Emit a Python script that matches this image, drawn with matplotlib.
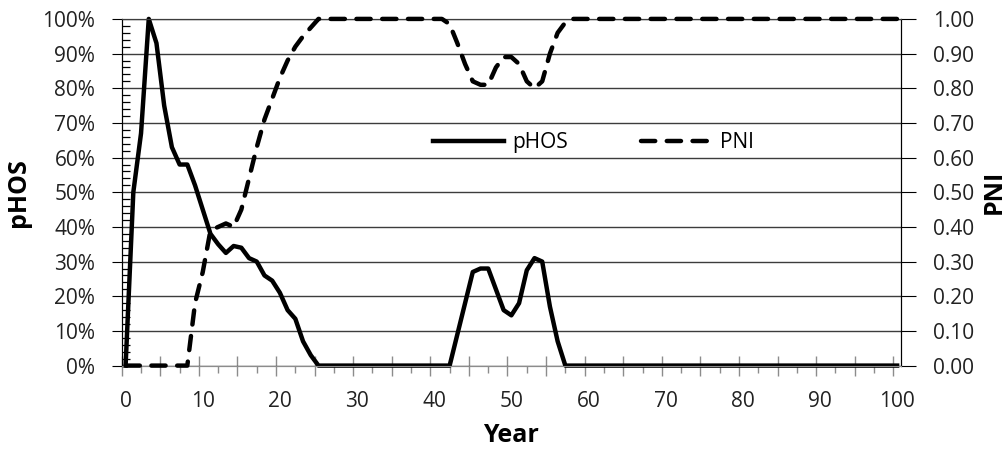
import matplotlib
matplotlib.use("Agg")
import matplotlib.pyplot as plt
from matplotlib.ticker import FixedLocator, FuncFormatter, MultipleLocator

plt.rcParams['font.family'] = ['Open Sans', 'DejaVu Sans']

# year 0..100
years = list(range(0, 101))

# pHOS, percent
phos = [0, 50, 67, 100, 93, 75, 63, 58, 58, 52,
        45, 38, 35, 32.5, 34.5, 34, 31, 30, 26, 24.5,
        21, 16, 13.5, 7, 3, 0, 0, 0, 0, 0,
        0, 0, 0, 0, 0, 0, 0, 0, 0, 0,
        0, 0, 0, 9, 18, 27, 28, 28, 22, 16,
        14.5, 18, 27.5, 31, 30, 17, 7, 0, 0, 0,
        0, 0, 0, 0, 0, 0, 0, 0, 0, 0,
        0, 0, 0, 0, 0, 0, 0, 0, 0, 0,
        0, 0, 0, 0, 0, 0, 0, 0, 0, 0,
        0, 0, 0, 0, 0, 0, 0, 0, 0, 0,
        0]

# PNI, 0..1
pni = [0, 0, 0, 0, 0, 0, 0, 0, 0, 0.18,
       0.27, 0.39, 0.40, 0.41, 0.40, 0.45, 0.54, 0.63, 0.71, 0.77,
       0.83, 0.88, 0.92, 0.95, 0.975, 1, 1, 1, 1, 1,
       1, 1, 1, 1, 1, 1, 1, 1, 1, 1,
       1, 1, 0.985, 0.93, 0.87, 0.82, 0.81, 0.81, 0.86, 0.89,
       0.89, 0.87, 0.82, 0.80, 0.82, 0.90, 0.96, 0.99, 1, 1,
       1, 1, 1, 1, 1, 1, 1, 1, 1, 1,
       1, 1, 1, 1, 1, 1, 1, 1, 1, 1,
       1, 1, 1, 1, 1, 1, 1, 1, 1, 1,
       1, 1, 1, 1, 1, 1, 1, 1, 1, 1,
       1]

x_labels = list(range(0, 101, 10))

fig = plt.figure(figsize=(10.07, 4.57), dpi=100)
ax = fig.add_axes([0.1209, 0.2, 0.7738, 0.7586])
ax2 = ax.twinx()

ax.plot(years, phos, color='black', lw=3.2, solid_joinstyle='round',
        clip_on=False, label='pHOS', zorder=3)
ax2.plot(years, pni, color='black', lw=3.2, dashes=(3.2, 2.6),
         dash_capstyle='round', dash_joinstyle='round',
         clip_on=False, label='PNI', zorder=3)

ax.set_xlim(-0.5, 100.5)
ax.set_ylim(0, 100)
ax2.set_ylim(0, 1)

# gridlines
ax.yaxis.set_major_locator(MultipleLocator(10))
ax.grid(True, axis='y', color='#3c3c3c', lw=1.0)
ax.set_axisbelow(True)

# x axis: labels every 10, long ticks every 5 between categories, short ticks halfway
ax.xaxis.set_major_locator(FixedLocator(x_labels))
ax.tick_params(axis='x', which='major', length=0, pad=18, labelsize=15,
               labelcolor='#222222')
ax.xaxis.set_minor_locator(FixedLocator([v - 0.5 for v in range(0, 101, 5)]))
ax.tick_params(axis='x', which='minor', direction='inout', length=15,
               color='#8c8c8c', width=1)
sec = ax.secondary_xaxis('bottom')
sec.xaxis.set_major_locator(FixedLocator([v + 2 for v in range(0, 100, 5)]))
sec.tick_params(axis='x', length=5, color='#8c8c8c', width=1, labelbottom=False)
sec.spines['bottom'].set_visible(False)

# left axis
ax.yaxis.set_major_formatter(FuncFormatter(lambda v, p: '%d%%' % v))
ax.yaxis.set_minor_locator(MultipleLocator(2))
ax.tick_params(axis='y', which='major', direction='out', length=7,
               color='black', pad=12, labelsize=15, labelcolor='#222222')
ax.tick_params(axis='y', which='minor', direction='in', length=6,
               color='black', width=0.9)

# right axis
ax2.yaxis.set_major_locator(MultipleLocator(0.1))
ax2.yaxis.set_major_formatter(FuncFormatter(lambda v, p: '%.2f' % v))
ax2.tick_params(axis='y', direction='out', length=11, color='black',
                pad=12, labelsize=15, labelcolor='#222222')

for a in (ax, ax2):
    a.spines['top'].set_color('#3c3c3c')
    a.spines['bottom'].set_color('#8c8c8c')
    a.spines['left'].set_color('black')
    a.spines['right'].set_color('black')

ax.set_xlabel('Year', fontsize=18, fontweight='bold')
ax.xaxis.set_label_coords(0.5, -0.165)
ax.set_ylabel('pHOS', fontsize=18, fontweight='bold')
ax.yaxis.set_label_coords(-0.117, 0.5)
ax2.set_ylabel('PNI', fontsize=18, fontweight='bold')
ax2.yaxis.set_label_coords(1.104, 0.5)

h1, l1 = ax.get_legend_handles_labels()
h2, l2 = ax2.get_legend_handles_labels()
ax2.legend(h1 + h2, l1 + l2, loc='center left', bbox_to_anchor=(0.40, 0.643),
           ncol=2, frameon=False, fontsize=15, handlelength=3.4,
           handletextpad=0.4, columnspacing=3.5, borderpad=0, borderaxespad=0)

fig.savefig('out.png', dpi=100)
